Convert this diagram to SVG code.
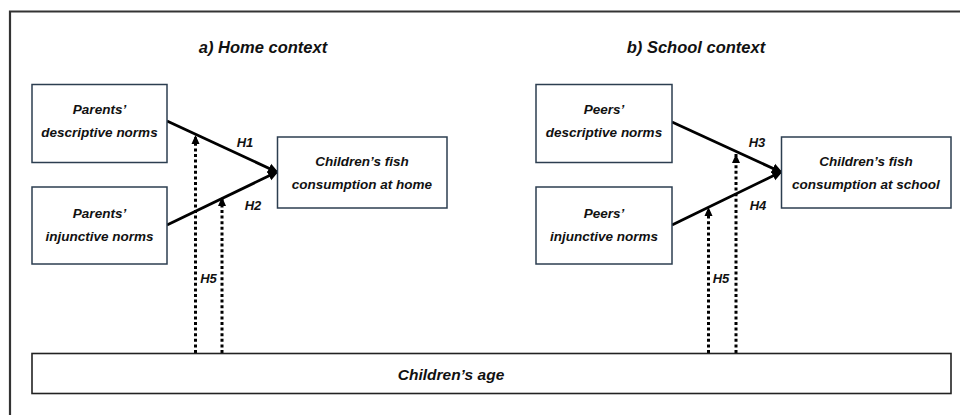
<svg xmlns="http://www.w3.org/2000/svg" width="960" height="415" viewBox="0 0 960 415">
<defs>
<style>
text{font-family:"Liberation Sans",Arial,sans-serif;font-weight:bold;font-style:italic;fill:#111;text-anchor:middle}
.box{fill:#fff;stroke:#2c3e50;stroke-width:1.5}
.lbl{font-size:13.5px}
.h{font-size:13px}
.title{font-size:16.5px}
.main{stroke:#000;stroke-width:2.8;fill:none}
.dot{stroke:#000;stroke-width:3;stroke-dasharray:3 2.6;fill:none}
</style>
<marker id="ah" markerUnits="userSpaceOnUse" markerWidth="12" markerHeight="12" viewBox="0 0 12 12" refX="11" refY="6" orient="auto">
<path d="M0,1 L11,6 L0,11 Z" fill="#000"/>
</marker>
<marker id="dh" markerUnits="userSpaceOnUse" markerWidth="10" markerHeight="10" viewBox="0 0 10 10" refX="9" refY="5" orient="auto">
<path d="M0,1 L9,5 L0,9 Z" fill="#000"/>
</marker>
</defs>
<rect width="960" height="415" fill="#fff"/>
<path d="M10,415 V11.5 H960" fill="none" stroke="#333" stroke-width="2.2"/>
<text class="title" x="263" y="53">a) Home context</text>
<text class="title" x="696" y="53">b) School context</text>

<g id="connectors">
<line class="main" x1="167" y1="121" x2="279" y2="173" marker-end="url(#ah)"/>
<line class="main" x1="167" y1="225" x2="279" y2="171" marker-end="url(#ah)"/>
<line class="main" x1="672" y1="122" x2="783" y2="173" marker-end="url(#ah)"/>
<line class="main" x1="672" y1="225" x2="783" y2="171" marker-end="url(#ah)"/>
<line class="dot" x1="195.5" y1="353" x2="195.5" y2="135" marker-end="url(#dh)"/>
<line class="dot" x1="222" y1="353" x2="222" y2="197" marker-end="url(#dh)"/>
<line class="dot" x1="708.5" y1="353" x2="708.5" y2="207" marker-end="url(#dh)"/>
<line class="dot" x1="736" y1="353" x2="736" y2="154" marker-end="url(#dh)"/>
<text class="h" x="245" y="147">H1</text>
<text class="h" x="253" y="210">H2</text>
<text class="h" x="757" y="147">H3</text>
<text class="h" x="758" y="210">H4</text>
<text class="h" x="208.5" y="283">H5</text>
<text class="h" x="721" y="283">H5</text>
</g>

<g id="parents-descriptive">
<rect class="box" x="32" y="84.5" width="135" height="78"/>
<text class="lbl" x="99.5" y="114">Parents’</text>
<text class="lbl" x="99.5" y="137">descriptive norms</text>
</g>
<g id="parents-injunctive">
<rect class="box" x="32" y="187" width="135" height="77"/>
<text class="lbl" x="99.5" y="218">Parents’</text>
<text class="lbl" x="99.5" y="241">injunctive norms</text>
</g>
<g id="home-consumption">
<rect class="box" x="277.5" y="137" width="169.5" height="71"/>
<text class="lbl" x="362" y="166">Children’s fish</text>
<text class="lbl" x="362" y="189">consumption at home</text>
</g>
<g id="peers-descriptive">
<rect class="box" x="536" y="84.5" width="136" height="78"/>
<text class="lbl" x="604" y="114">Peers’</text>
<text class="lbl" x="604" y="137">descriptive norms</text>
</g>
<g id="peers-injunctive">
<rect class="box" x="536" y="187" width="136" height="77"/>
<text class="lbl" x="604" y="218">Peers’</text>
<text class="lbl" x="604" y="241">injunctive norms</text>
</g>
<g id="school-consumption">
<rect class="box" x="781.5" y="137" width="169.5" height="71"/>
<text class="lbl" x="866" y="166">Children’s fish</text>
<text class="lbl" x="866" y="189">consumption at school</text>
</g>
<g id="age">
<rect x="32" y="353.5" width="919" height="40" fill="#fff" stroke="#222" stroke-width="1.6"/>
<text x="451" y="380" style="font-size:15.5px">Children’s age</text>
</g>
</svg>
